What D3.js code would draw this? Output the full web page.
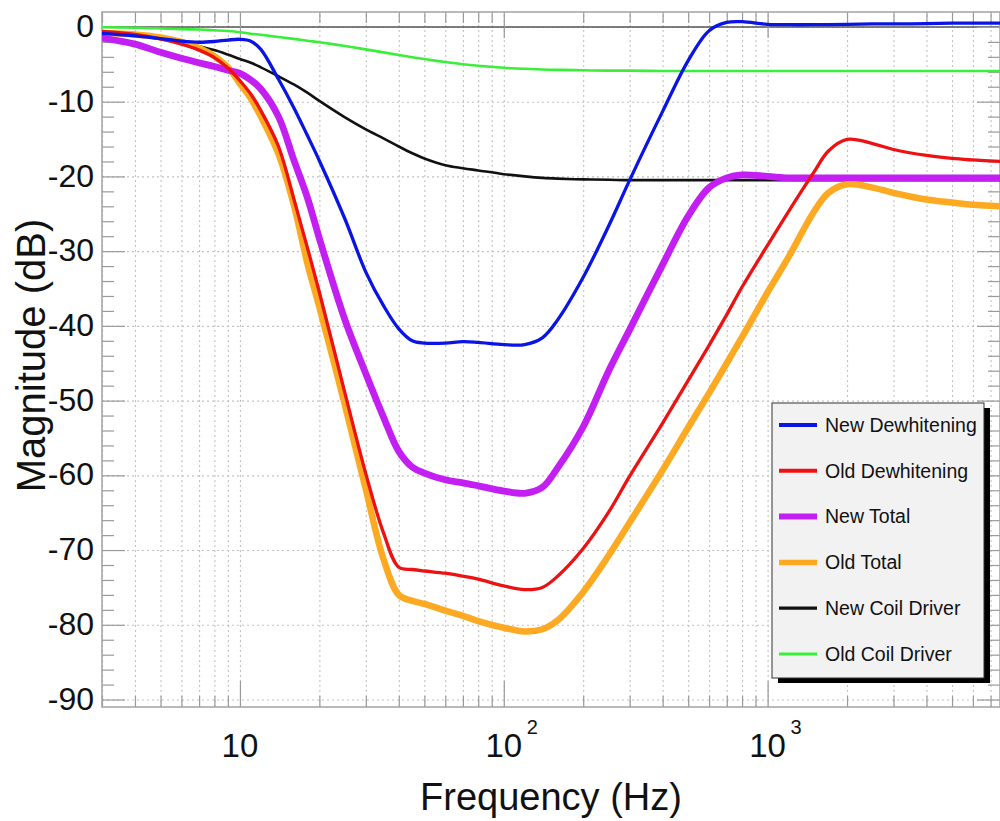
<!DOCTYPE html>
<html>
<head>
<meta charset="utf-8">
<script src="https://cdn.jsdelivr.net/npm/d3@7"></script>
<style>
    body { margin: 0; background: #fff; }
    text { font-family: Arial, "Liberation Sans", Helvetica, sans-serif; fill: #111; }
</style>
</head>
<body>
<div id="chart"></div>
<script>
// frequency grid shared by every series (Hz)
const freqs = [3, 4, 5, 6, 7, 8, 9, 10, 11, 12, 14, 16, 18, 20, 25, 30, 35, 40, 45, 50,
    60, 70, 80, 100, 120, 140, 160, 200, 250, 300, 400, 500, 600, 700, 800, 1000,
    1200, 1500, 1700, 2000, 2500, 3000, 4000, 5000, 6000, 7600];

// magnitudes in dB
const newDewhitening = [-0.85, -1.2, -1.55, -1.9, -2.05, -1.95, -1.75, -1.65, -1.9, -3.0,
    -7.0, -10.8, -14.5, -17.9, -25.7, -32.8, -37.3, -40.4, -42.0, -42.3,
    -42.3, -42.1, -42.2, -42.5, -42.5, -41.6, -39.2, -33.5, -26.6, -20.5,
    -11.3, -4.5, -0.5, 0.6, 0.7, 0.35, 0.3, 0.3, 0.32, 0.35, 0.4, 0.4, 0.45, 0.5, 0.5, 0.5];
const oldDewhitening = [-0.6, -1.0, -1.6, -2.3, -3.1, -4.1, -5.5, -7.2, -9.0, -11.2,
    -16.0, -23.0, -29.5, -35.5, -49.0, -59.8, -67.7, -72.3, -72.6, -72.8,
    -73.1, -73.5, -73.9, -74.8, -75.3, -75.0, -73.5, -69.8, -64.9, -60.1,
    -53.0, -47.3, -42.6, -38.5, -34.8, -29.2, -24.7, -19.4, -16.6, -15.05, -15.6,
    -16.4, -17.2, -17.6, -17.8, -18.0];
const newTotal = [-1.5, -2.3, -3.4, -4.2, -4.8, -5.3, -5.8, -6.2, -7.1, -8.3,
    -12.0, -17.8, -22.8, -28.3, -39.2, -46.4, -52.2, -56.8, -58.9, -59.7,
    -60.6, -61.0, -61.4, -62.1, -62.4, -61.6, -59.0, -53.5, -46.0, -40.5,
    -31.8, -25.3, -21.5, -20.2, -19.8, -20.0, -20.2, -20.2, -20.2, -20.2, -20.2,
    -20.2, -20.2, -20.2, -20.2, -20.2];
const oldTotal = [-0.8, -1.0, -1.4, -2.0, -2.8, -3.9, -5.4, -7.6, -9.6, -12.0,
    -17.0, -23.8, -31.6, -37.5, -50.6, -61.9, -71.2, -76.0, -76.8, -77.2,
    -78.1, -78.8, -79.5, -80.4, -80.9, -80.6, -79.4, -75.6, -70.7, -66.3,
    -59.3, -53.6, -49.0, -45.0, -41.5, -35.5, -30.8, -24.7, -22.2, -21.05, -21.5,
    -22.2, -23.1, -23.5, -23.8, -24.0];
const newCoilDriver = [-0.8, -1.1, -1.6, -2.1, -2.6, -3.1, -3.7, -4.3, -4.8, -5.4,
    -6.6, -7.7, -8.8, -9.9, -12.1, -13.7, -14.9, -16.0, -16.9, -17.6,
    -18.5, -18.9, -19.2, -19.7, -20.0, -20.2, -20.3, -20.4, -20.45, -20.5,
    -20.5, -20.5, -20.5, -20.5, -20.5, -20.5, -20.5, -20.5, -20.5, -20.5, -20.5,
    -20.5, -20.5, -20.5, -20.5, -20.5];
const oldCoilDriver = [-0.05, -0.1, -0.2, -0.3, -0.35, -0.45, -0.55, -0.7, -0.9, -1.05,
    -1.35, -1.6, -1.85, -2.05, -2.55, -3.0, -3.4, -3.75, -4.05, -4.3,
    -4.7, -5.0, -5.2, -5.45, -5.6, -5.7, -5.75, -5.8, -5.85, -5.85,
    -5.9, -5.9, -5.9, -5.9, -5.9, -5.9, -5.9, -5.9, -5.9, -5.9, -5.9,
    -5.9, -5.9, -5.9, -5.9, -5.9];

const seriesNames = ['New Dewhitening', 'Old Dewhitening', 'New Total', 'Old Total',
    'New Coil Driver', 'Old Coil Driver'];

// tick labels
const xTickValues = [10, 100, 1000];
const xTickExponents = ['', '2', '3'];
const yTickValues = [0, -10, -20, -30, -40, -50, -60, -70, -80, -90];

class BodePlot {
    constructor(series, config) {
        this.series = series;
        this.config = {
            parentElement: config.parentElement || 'body',
            width: config.width || 1000,
            height: config.height || 821,
            margin: config.margin || {top: 12, right: 0, bottom: 114, left: 102},
            colors: config.colors,
            lineWidths: config.lineWidths,
            legendWidths: config.legendWidths,
            drawOrder: config.drawOrder
        };
        this.initViz();
    }

    initViz() {
        const that = this;
        const m = that.config.margin;
        that.boundedWidth = that.config.width - m.left - m.right;
        that.boundedHeight = that.config.height - m.top - m.bottom;

        that.xScale = d3.scaleLog()
            .domain([3, 7600])
            .range([0, that.boundedWidth]);
        that.yScale = d3.scaleLinear()
            .domain([-91, 2])
            .range([that.boundedHeight, 0]);

        that.svg = d3.select(that.config.parentElement)
            .append('svg')
                .attr('width', that.config.width)
                .attr('height', that.config.height)
                .style('display', 'block');
        that.svg.append('rect')
            .attr('width', that.config.width)
            .attr('height', that.config.height)
            .attr('fill', '#fff');

        that.viz = that.svg.append('g')
            .attr('transform', `translate(${m.left},${m.top})`);

        that.viz.append('clipPath').attr('id', 'plot-clip')
            .append('rect')
                .attr('width', that.boundedWidth)
                .attr('height', that.boundedHeight);

        this.renderViz();
    }

    renderViz() {
        const that = this;
        const w = that.boundedWidth;
        const h = that.boundedHeight;
        const x = that.xScale;
        const y = that.yScale;

        // every 1..9 step of each decade inside the domain
        const minorX = [];
        [1, 10, 100, 1000].forEach(dec => {
            d3.range(1, 10).forEach(k => {
                const f = k * dec;
                if (f >= 3 && f <= 7600) minorX.push(f);
            });
        });
        const minorY = d3.range(-90, 2, 2).filter(d => d % 10 !== 0);

        const styleGrid = g => {
            g.select('.domain').remove();
            g.selectAll('line')
                .attr('stroke', '#c2c2c2')
                .attr('stroke-width', 1.1)
                .attr('stroke-dasharray', '2,3');
        };
        const styleTicks = g => {
            g.select('.domain').remove();
            g.selectAll('line')
                .attr('stroke', '#9a9a9a')
                .attr('stroke-width', 1.2);
        };

        // dotted grid
        that.viz.append('g')
            .attr('transform', `translate(0,${h})`)
            .call(d3.axisBottom(x).tickValues(minorX).tickSize(-h).tickFormat(''))
            .call(styleGrid);
        that.viz.append('g')
            .call(d3.axisLeft(y).tickValues(yTickValues).tickSize(-w).tickFormat(''))
            .call(styleGrid);

        // solid line at 0 dB
        that.viz.append('line')
            .attr('x1', 0).attr('x2', w)
            .attr('y1', y(0)).attr('y2', y(0))
            .attr('stroke', '#555')
            .attr('stroke-width', 1.6);

        // inward ticks on all four sides
        const majorXTicks = xTickValues;
        const minorXTicks = minorX.filter(d => !majorXTicks.includes(d));
        that.viz.append('g').attr('transform', `translate(0,${h})`)
            .call(d3.axisBottom(x).tickValues(minorXTicks).tickSize(-11).tickFormat(''))
            .call(styleTicks);
        that.viz.append('g').attr('transform', `translate(0,${h})`)
            .call(d3.axisBottom(x).tickValues(majorXTicks).tickSize(-26).tickFormat(''))
            .call(styleTicks);
        that.viz.append('g')
            .call(d3.axisTop(x).tickValues(minorXTicks).tickSize(-11).tickFormat(''))
            .call(styleTicks);
        that.viz.append('g')
            .call(d3.axisTop(x).tickValues(majorXTicks).tickSize(-26).tickFormat(''))
            .call(styleTicks);
        that.viz.append('g')
            .call(d3.axisLeft(y).tickValues(minorY).tickSize(-12).tickFormat(''))
            .call(styleTicks);
        that.viz.append('g').attr('transform', `translate(${w},0)`)
            .call(d3.axisRight(y).tickValues(minorY).tickSize(-12).tickFormat(''))
            .call(styleTicks);
        that.viz.append('g').attr('transform', `translate(${w},0)`)
            .call(d3.axisRight(y).tickValues(yTickValues).tickSize(-23).tickFormat(''))
            .call(styleTicks);

        // left major ticks carry the labels
        that.viz.append('g')
            .call(d3.axisLeft(y).tickValues(yTickValues).tickSize(-23).tickPadding(8)
                .tickFormat(d => String(d)))
            .call(styleTicks)
            .call(g => g.selectAll('text')
                .attr('dy', '0.3em')
                .style('font-size', '32px')
                .style('font-family', 'Arial, "Liberation Sans", sans-serif')
                .attr('fill', '#111'));

        // frame
        that.viz.append('rect')
            .attr('width', w)
            .attr('height', h)
            .attr('fill', 'none')
            .attr('stroke', '#a3a3a3')
            .attr('stroke-width', 1.5);

        // x labels: 10, 10^2, 10^3
        that.viz.selectAll('.x-label')
            .data(xTickValues)
            .join('text')
                .attr('class', 'x-label')
                .attr('x', d => x(d))
                .attr('y', h + 50)
                .attr('text-anchor', 'middle')
                .style('font-size', '33px')
                .text('10');
        that.viz.selectAll('.x-exp')
            .data(xTickValues)
            .join('text')
                .attr('class', 'x-exp')
                .attr('x', d => x(d) + 23)
                .attr('y', h + 27)
                .style('font-size', '20px')
                .text((d, i) => xTickExponents[i]);

        // axis titles
        that.viz.append('text')
            .attr('x', w / 2)
            .attr('y', h + 103)
            .attr('text-anchor', 'middle')
            .style('font-size', '38px')
            .text('Frequency (Hz)');
        that.viz.append('text')
            .attr('transform', `translate(-57,${h / 2 - 4}) rotate(-90)`)
            .attr('text-anchor', 'middle')
            .style('font-size', '40px')
            .text('Magnitude (dB)');

        // curves
        const line = d3.line()
            .x(d => x(d[0]))
            .y(d => y(d[1]))
            .curve(d3.curveCatmullRom.alpha(0.5));

        const curves = that.viz.append('g').attr('clip-path', 'url(#plot-clip)');
        that.config.drawOrder.forEach(i => {
            curves.append('path')
                .datum(freqs.map((f, j) => [f, that.series[i][j]]))
                .attr('fill', 'none')
                .attr('stroke', that.config.colors[i])
                .attr('stroke-width', that.config.lineWidths[i])
                .attr('stroke-linejoin', 'round')
                .attr('stroke-linecap', 'round')
                .attr('d', line);
        });

        // legend with drop shadow
        const legend = that.svg.append('g')
            .attr('transform', 'translate(772,403)');
        legend.append('rect')
            .attr('x', 6).attr('y', 5)
            .attr('width', 212).attr('height', 275)
            .attr('fill', '#000');
        legend.append('rect')
            .attr('width', 212).attr('height', 275)
            .attr('fill', '#f2f2f2')
            .attr('stroke', '#333')
            .attr('stroke-width', 1);
        const items = legend.selectAll('.item')
            .data(seriesNames)
            .join('g')
                .attr('class', 'item')
                .attr('transform', (d, i) => `translate(0,${22 + i * 45.8})`);
        items.append('line')
            .attr('x1', 7).attr('x2', 45)
            .attr('stroke', (d, i) => that.config.colors[i])
            .attr('stroke-width', (d, i) => that.config.legendWidths[i]);
        items.append('text')
            .attr('x', 53)
            .attr('dy', '0.35em')
            .style('font-size', '19.5px')
            .text(d => d);
    }
}

new BodePlot([newDewhitening, oldDewhitening, newTotal, oldTotal, newCoilDriver, oldCoilDriver], {
    parentElement: '#chart',
    colors: ['#0a14e6', '#ee1111', '#c31ff2', '#fdaa22', '#111111', '#3aee3a'],
    lineWidths: [3.3, 3.3, 6.8, 6.5, 2.6, 2.6],
    legendWidths: [4, 4, 6, 5.5, 3.2, 3.2],
    drawOrder: [5, 4, 3, 2, 1, 0]
});
</script>
</body>
</html>
